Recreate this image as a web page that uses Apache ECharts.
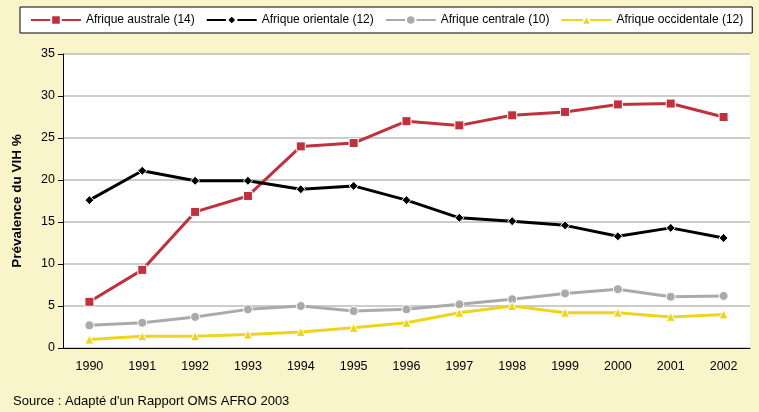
<!DOCTYPE html>
<html>
<head>
<meta charset="utf-8">
<script src="https://cdn.jsdelivr.net/npm/echarts@6/dist/echarts.min.js"></script>
<style>
  html, body { margin: 0; padding: 0; background: #faf4cb; }
  #chart { width: 759px; height: 412px; }
</style>
</head>
<body>
<div id="chart"></div>
<script>
var years = ['1990', '1991', '1992', '1993', '1994', '1995', '1996', '1997', '1998', '1999', '2000', '2001', '2002'];
var australe = [5.5, 9.3, 16.2, 18.1, 24.0, 24.4, 27.0, 26.5, 27.7, 28.1, 29.0, 29.1, 27.5];
var orientale = [17.6, 21.1, 19.9, 19.9, 18.9, 19.3, 17.6, 15.5, 15.1, 14.6, 13.3, 14.3, 13.1];
var centrale = [2.7, 3.0, 3.7, 4.6, 5.0, 4.4, 4.6, 5.2, 5.8, 6.5, 7.0, 6.1, 6.2];
var occidentale = [1.0, 1.4, 1.4, 1.6, 1.9, 2.4, 3.0, 4.2, 5.0, 4.2, 4.2, 3.7, 4.0];

var font = 'Liberation Sans, Arial, sans-serif';

function lineSeries(name, data, color, symbol, size) {
    return {
        name: name,
        type: 'line',
        data: data,
        symbol: symbol,
        symbolSize: size,
        lineStyle: { color: color, width: 3 },
        itemStyle: { color: color, borderColor: '#fff', borderWidth: 1 },
        emphasis: { disabled: true },
        animation: false
    };
}

var chart = echarts.init(document.getElementById('chart'));

var option = {
    backgroundColor: '#faf4cb',
    textStyle: { fontFamily: font },
    legend: {
        left: 20,
        top: 7,
        padding: [7, 9, 7, 10],
        backgroundColor: '#fff',
        borderColor: '#000',
        borderWidth: 1,
        itemWidth: 50,
        itemHeight: 12,
        itemGap: 11,
        textStyle: { fontFamily: font, fontSize: 12, color: '#000' },
        data: ['Afrique australe (14)', 'Afrique orientale (12)', 'Afrique centrale (10)', 'Afrique occidentale (12)']
    },
    grid: {
        left: 63,
        right: 9,
        top: 54,
        bottom: 64,
        show: true,
        backgroundColor: '#fff',
        borderWidth: 0
    },
    xAxis: {
        type: 'category',
        data: years,
        boundaryGap: true,
        axisLine: { lineStyle: { color: '#000', width: 1 } },
        axisTick: { show: false },
        axisLabel: { color: '#000', fontSize: 12.5, fontFamily: font, margin: 12 }
    },
    yAxis: {
        type: 'value',
        min: 0,
        max: 35,
        interval: 5,
        name: 'Prévalence du VIH %',
        nameLocation: 'middle',
        nameGap: 39,
        nameTextStyle: { color: '#000', fontSize: 13.5, fontWeight: 'bold', fontFamily: font },
        axisLine: { show: true, lineStyle: { color: '#000', width: 1 } },
        axisTick: { show: true, length: 5, lineStyle: { color: '#000' } },
        axisLabel: { color: '#000', fontSize: 12.5, fontFamily: font, margin: 8 },
        splitLine: { lineStyle: { color: '#bbb', width: 1.5 } }
    },
    graphic: [{
        type: 'text',
        left: 13,
        top: 395,
        style: { text: "Source : Adapté d'un Rapport OMS AFRO 2003", font: '13px ' + font, fill: '#000' }
    }],
    series: [
        lineSeries('Afrique australe (14)', australe, '#c1313d', 'rect', 9),
        lineSeries('Afrique orientale (12)', orientale, '#000', 'diamond', 9),
        lineSeries('Afrique centrale (10)', centrale, '#aaaaaa', 'circle', 9),
        lineSeries('Afrique occidentale (12)', occidentale, '#f0d41c', 'triangle', 9)
    ]
};

chart.setOption(option);
</script>
</body>
</html>
